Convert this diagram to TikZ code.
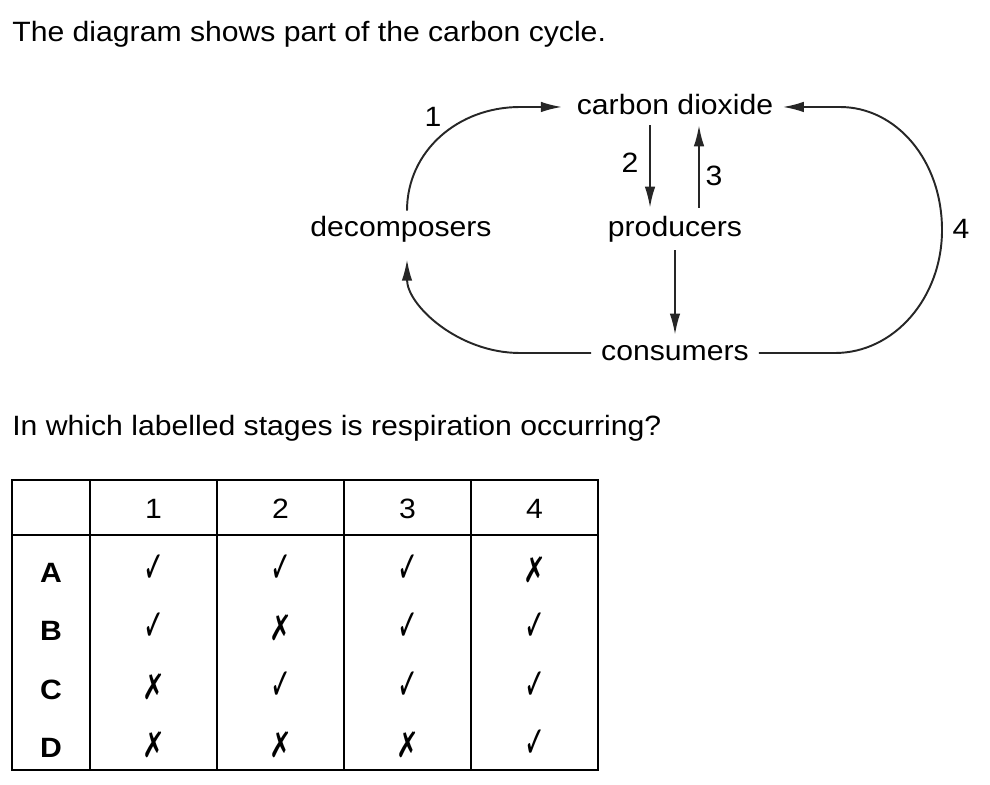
\documentclass[tikz,border=0pt]{standalone}
\usepackage{fontspec}
\setmainfont[FakeStretch=1.08]{Liberation Sans}
\newfontfamily\markfont{DejaVu Sans}
\usetikzlibrary{arrows.meta,positioning,calc}
\newcommand\yesmark{\scalebox{0.57}[1]{\markfont ✓}}
\newcommand\nomark{\scalebox{0.62}[0.8]{\markfont ✗}}
\tikzset{
  txt/.style={anchor=base west,inner sep=0pt,font=\fontsize{15.9}{19}\selectfont},
  lbl/.style={anchor=base,inner sep=0pt,font=\fontsize{15.9}{19}\selectfont},
  stage/.style={anchor=base,inner sep=2.8pt,text height=11.4pt,text depth=3.4pt,
    font=\fontsize{15.9}{19}\selectfont},
  flow/.style={-{Latex[length=12pt,width=6pt]},line width=1.1pt,color=black!85},
  tbl/.style={line width=1.2pt},
  markcell/.style={anchor=base,inner sep=0pt,font=\fontsize{25}{28}\selectfont},
}
\begin{document}
\begin{tikzpicture}[x=0.02cm,y=-0.02cm]
  \useasboundingbox (0,0) rectangle (990,784);
  \node[txt] (title) at (12,42) {The diagram shows part of the carbon cycle.};
  \node[stage] (co2) at (675,114) {carbon dioxide};
  \node[stage,inner ysep=4.5pt] (prod) at (675,236) {producers};
  \node[stage] (dec) at (401,236) {decomposers};
  \node[stage,inner xsep=5.5pt] (cons) at (675,360) {consumers};
  \node[lbl] (n1) at (433,127) {1}; \node[lbl] (n2) at (630,172) {2};
  \node[lbl] (n3) at (714,185) {3}; \node[lbl] (n4) at (961,238) {4};
  \draw[flow,shorten >=5.5pt] ([xshift=0.12cm]dec.north) .. controls (407,151) and (458,107) .. (520,107) -- (co2.west);
  \draw[flow] ([xshift=-0.5cm]co2.south) -- ([xshift=-0.5cm]prod.north);
  \draw[flow] ([xshift=0.48cm]prod.north) -- ([xshift=0.48cm]co2.south);
  \draw[flow] (prod) -- (cons);
  \draw[flow,shorten >=7pt] (cons.west) -- (520,353) .. controls (458,353) and (407,305) .. ([xshift=0.12cm]dec.south);
  \draw[flow,shorten >=2.5pt] (cons.east) -- (835,353) .. controls (894,353) and (942,298) .. (942,230)
    .. controls (942,160) and (896,107) .. (840,107) -- (co2.east);
  \node[txt] (question) at (12,435) {In which labelled stages is respiration occurring?};
  \draw[tbl] (12,480) rectangle (598,770) (12,535) -- (598,535);
  \foreach \x in {90,217,344,471} \draw[tbl] (\x,480) -- (\x,770);
  \foreach \i in {1,...,4} \node[lbl] (h\i) at ({26.5+127*\i},518) {\i};
  \foreach \row/\yy/\marks in {A/582/{1,1,1,0},B/640/{1,0,1,1},C/699/{0,1,1,1},D/757/{0,0,0,1}}{
    \node[lbl,font=\fontsize{15.9}{19}\selectfont\bfseries] (r\row) at (51,\yy) {\row};
    \foreach \m [count=\i] in \marks
      \node[markcell] (c\row\i) at ({26.5+127*\i},\yy) {\ifnum\m=1 \yesmark\else\nomark\fi};
  }
\end{tikzpicture}
\end{document}
